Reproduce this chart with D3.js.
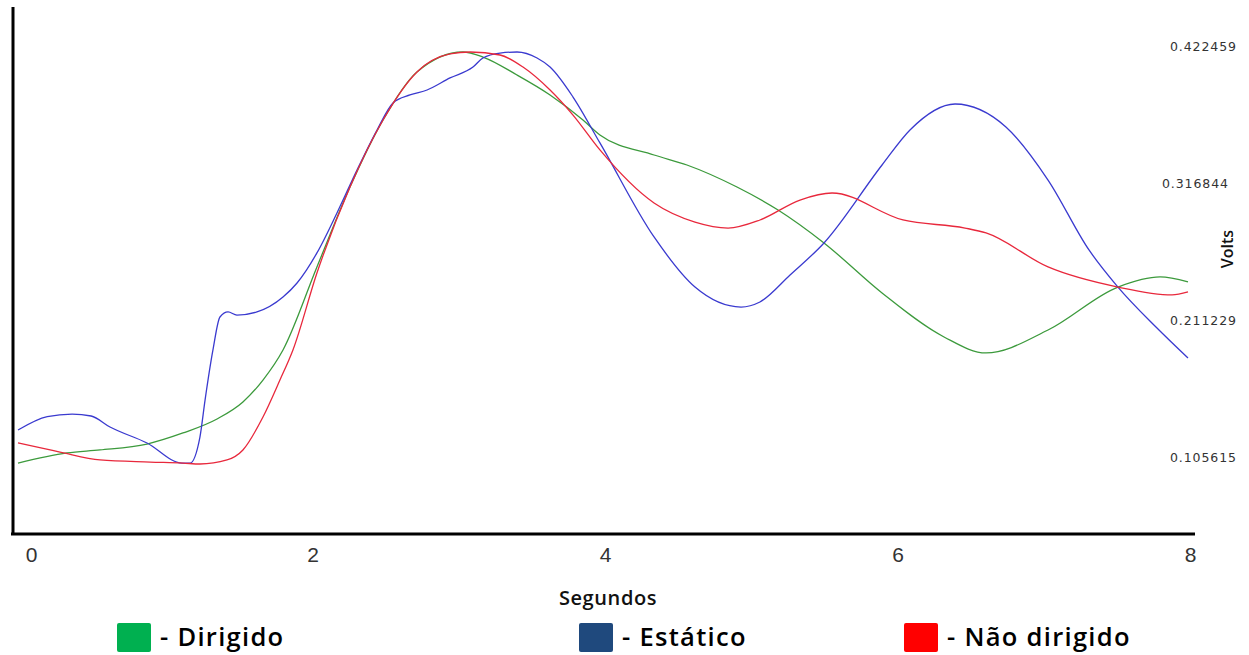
<html>
<head>
    <title>Volts x Segundos</title>
    <script src="https://d3js.org/d3.v7.min.js"></script>
    <style>
        body { margin: 0; background: #fff; }
    </style>
</head>
<body>
    <svg id="chart" width="1249" height="655"></svg>

    <script>
    // tempo (s) e tensão (V)
    const dirigido = [
        [0, 0.1017], [0.335, 0.1095], [0.561, 0.1118], [0.882, 0.1164], [1.128, 0.1249],
        [1.361, 0.1357], [1.538, 0.1488], [1.675, 0.1657], [1.812, 0.1889], [2.044, 0.2529],
        [2.270, 0.3145], [2.496, 0.3662], [2.728, 0.4032], [3.043, 0.4186], [3.179, 0.4147],
        [3.412, 0.4009], [3.638, 0.3855], [3.863, 0.3662], [3.979, 0.3546], [4.349, 0.3392],
        [4.574, 0.3315], [4.916, 0.3145], [5.197, 0.2968], [5.511, 0.2714], [5.908, 0.2328],
        [6.332, 0.1989], [6.619, 0.1866], [7.043, 0.2043], [7.521, 0.2374], [7.809, 0.2452],
        [8.0, 0.2413]
    ];
    const estatico = [
        [0, 0.1272], [0.2, 0.1375], [0.37, 0.1395], [0.5, 0.1380], [0.629, 0.1295], [0.882, 0.1172],
        [1.121, 0.1017], [1.176, 0.1017], [1.244, 0.1218], [1.279, 0.1503], [1.333, 0.1889],
        [1.381, 0.2143], [1.436, 0.2182], [1.497, 0.2158], [1.634, 0.2182], [1.812, 0.2297],
        [1.908, 0.2405], [2.044, 0.2637], [2.181, 0.2945], [2.318, 0.3276], [2.455, 0.3585],
        [2.564, 0.3793], [2.680, 0.3855], [2.797, 0.3893], [2.954, 0.3986], [3.111, 0.4070],
        [3.179, 0.4140], [3.296, 0.4178], [3.412, 0.4186], [3.549, 0.4140], [3.638, 0.4070],
        [3.795, 0.3839], [3.979, 0.3485], [4.349, 0.2760], [4.629, 0.2374], [4.944, 0.2220],
        [5.073, 0.2259], [5.279, 0.2467], [5.511, 0.2714], [5.908, 0.3315], [6.099, 0.3585],
        [6.407, 0.3785], [6.755, 0.3608], [7.043, 0.3199], [7.323, 0.2660], [7.521, 0.2374],
        [7.781, 0.2066], [8.0, 0.1827]
    ];
    const naoDirigido = [
        [0, 0.1172], [0.287, 0.1102], [0.561, 0.1041], [0.903, 0.1025], [1.128, 0.1017],
        [1.244, 0.1010], [1.429, 0.1041], [1.538, 0.1118], [1.675, 0.1372], [1.791, 0.1657],
        [1.880, 0.1889], [2.044, 0.2482], [2.270, 0.3145], [2.496, 0.3662], [2.728, 0.4032],
        [2.954, 0.4171], [3.091, 0.4186], [3.296, 0.4163], [3.453, 0.4070], [3.638, 0.3893],
        [3.795, 0.3700], [3.979, 0.3431], [4.349, 0.3022], [4.629, 0.2875], [4.855, 0.2829],
        [5.073, 0.2891], [5.347, 0.3045], [5.566, 0.3099], [6.051, 0.2891], [6.475, 0.2829],
        [6.619, 0.2791], [7.043, 0.2529], [7.521, 0.2374], [7.891, 0.2313], [8.0, 0.2336]
    ];

    const xTicks = [0, 2, 4, 6, 8];
    const yTicks = [0.105615, 0.211229, 0.316844, 0.422459];

    const series = [
        { name: '- Dirigido', data: dirigido, line: '#3c9a3c', key: '#00b050', lx: 117 },
        { name: '- Estático', data: estatico, line: '#3a3acf', key: '#1f497d', lx: 579 },
        { name: '- Não dirigido', data: naoDirigido, line: '#e8283c', key: '#ff0000', lx: 904 }
    ];

    const svg = d3.select('#chart');

    const x = d3.scaleLinear().domain([0, 8]).range([18, 1188]);
    const y = d3.scaleLinear().domain([0.105615, 0.422459]).range([458, 47]);

    const line = d3.line()
        .x(d => x(d[0]))
        .y(d => y(d[1]))
        .curve(d3.curveMonotoneX);

    // curvas
    svg.selectAll('path.serie')
        .data(series)
        .enter()
        .append('path')
        .attr('class', 'serie')
        .attr('fill', 'none')
        .attr('stroke', d => d.line)
        .attr('stroke-width', 1.3)
        .attr('d', d => line(d.data));

    // eixos (linhas pretas)
    svg.append('line')
        .attr('x1', 13).attr('x2', 13)
        .attr('y1', 7).attr('y2', 535)
        .attr('stroke', '#000').attr('stroke-width', 3);
    svg.append('line')
        .attr('x1', 11).attr('x2', 1195)
        .attr('y1', 534).attr('y2', 534)
        .attr('stroke', '#000').attr('stroke-width', 3);

    // rótulos do eixo x
    const xAxis = svg.append('g')
        .attr('transform', 'translate(0,534)')
        .call(d3.axisBottom(x).tickValues(xTicks).tickSize(0).tickPadding(13).tickFormat(d3.format('d')));
    xAxis.select('.domain').remove();
    xAxis.selectAll('text')
        .attr('font-family', '"Liberation Sans", Arial, sans-serif')
        .attr('font-size', 21)
        .attr('fill', '#333')
        .attr('dx', d => d === 0 ? 13 : 2);

    // rótulos do eixo y (à direita)
    svg.selectAll('text.ytick')
        .data(yTicks)
        .enter()
        .append('text')
        .attr('class', 'ytick')
        .attr('x', d => d === 0.316844 ? 1162 : 1170)
        .attr('y', d => y(d))
        .attr('dy', '0.35em')
        .attr('font-family', '"DejaVu Sans", Verdana, sans-serif')
        .attr('font-size', 12.5)
        .attr('letter-spacing', 0.9)
        .attr('fill', '#333')
        .text(d => d.toFixed(6));

    svg.append('text')
        .attr('transform', 'translate(1233,249) rotate(-90)')
        .attr('text-anchor', 'middle')
        .attr('font-family', '"Open Sans", sans-serif')
        .attr('font-weight', 600)
        .attr('font-size', 16)
        .attr('fill', '#111')
        .text('Volts');

    svg.append('text')
        .attr('x', 608)
        .attr('y', 605)
        .attr('text-anchor', 'middle')
        .attr('font-family', '"Open Sans", sans-serif')
        .attr('font-weight', 600)
        .attr('font-size', 20)
        .attr('letter-spacing', 0.6)
        .attr('fill', '#111')
        .text('Segundos');

    // legenda
    const legend = svg.selectAll('g.legend')
        .data(series)
        .enter()
        .append('g')
        .attr('class', 'legend')
        .attr('transform', d => `translate(${d.lx}, 623)`);

    legend.append('rect')
        .attr('width', 34)
        .attr('height', 29)
        .attr('rx', 2)
        .attr('fill', d => d.key);

    legend.append('text')
        .attr('x', 43)
        .attr('y', 23)
        .attr('font-family', '"Open Sans", sans-serif')
        .attr('font-weight', 600)
        .attr('font-size', 25.5)
        .attr('letter-spacing', 1.3)
        .attr('fill', '#000')
        .text(d => d.name);
    </script>
</body>
</html>
